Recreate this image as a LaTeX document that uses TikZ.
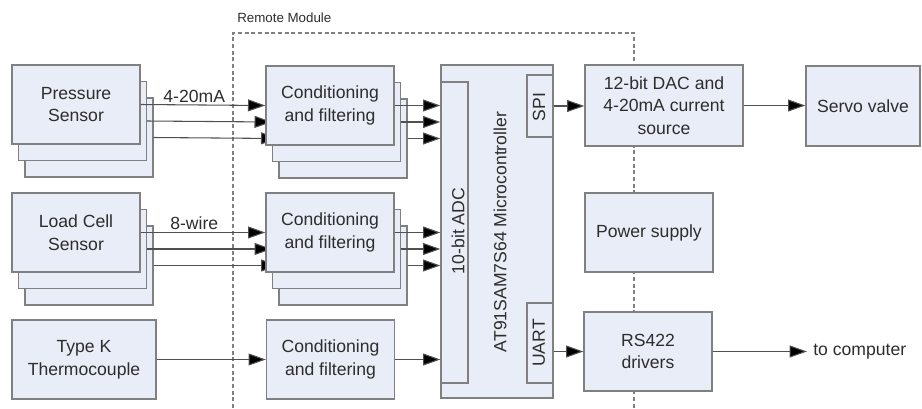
\documentclass[tikz,border=0pt]{standalone}
\usepackage{fontspec}
\setmainfont{Liberation Sans}
\usetikzlibrary{arrows.meta}

\begin{document}
\begin{tikzpicture}[x=0.75pt,y=-0.75pt,
  blk/.style={draw=kBorder,fill=kFill,line width=1pt,inner sep=0pt,
    minimum width=96pt,minimum height=59.25pt,align=center,text=kText,
    font=\fontsize{13.2}{17}\selectfont},
  lbl/.style={inner sep=0pt,text=kText,font=\fontsize{13.2}{17}\selectfont},
  sig/.style={draw=kLine,line width=0.8pt,-{Triangle[length=13pt,width=9pt,fill=black]}}]
  \definecolor{kFill}{RGB}{232,237,247}
  \definecolor{kBorder}{RGB}{128,128,128}
  \definecolor{kText}{RGB}{45,45,45}
  \definecolor{kLine}{RGB}{80,80,80}

  \useasboundingbox (0,0) rectangle (922,408);

  % remote module frame
  \draw[kBorder,line width=0.8pt,dash pattern=on 3pt off 2pt]
    (233,408) -- (233,33) -- (634,33) -- (634,408);
  \node[lbl,anchor=west,font=\fontsize{10}{12}\selectfont] (remote) at (237,18) {Remote Module};

  % microcontroller
  \node[blk,minimum width=84pt,minimum height=249.75pt] (mcu) at (497,231.5) {};
  \node[blk,minimum width=20.25pt,minimum height=225.75pt] (adc) at (454.5,232.5) {};
  \node[blk,minimum width=19.5pt,minimum height=46.5pt] (spi) at (540,106) {};
  \node[blk,minimum width=19.5pt,minimum height=60pt] (uart) at (540,343) {};
  \node[lbl,rotate=90] (mcutxt) at (500,232) {AT91SAM7S64 Microcontroller};
  \node[lbl,rotate=90] (adctxt) at (458,231) {10-bit ADC};
  \node[lbl,rotate=90] (spitxt) at (539,107) {SPI};
  \node[lbl,rotate=90] (uarttxt) at (539,343) {UART};

  % stacked sensors and conditioning
  \foreach \k/\dx/\dy in {3/13/33,2/6.5/16.5}
  {
    \node[blk] (ps\k) at (76+\dx,104.5+\dy) {};
    \node[blk] (cp\k) at (330+\dx,105.5+\dy) {};
    \draw[sig] (ps\k.east) -- (cp\k.west);
    \draw[sig] (cp\k.east) -- (cp\k.east -| adc.west);
    \node[blk] (lc\k) at (76+\dx,232.5+\dy) {};
    \node[blk] (cl\k) at (330+\dx,232.5+\dy) {};
    \draw[sig] (lc\k.east) -- (cl\k.west);
    \draw[sig] (cl\k.east) -- (cl\k.east -| adc.west);
  }

  \node[blk] (ps1) at (76,104.5) {Pressure\\Sensor};
  \node[blk] (cp1) at (330,105.5) {Conditioning\\and filtering};
  \node[blk] (lc1) at (76,232.5) {Load Cell\\Sensor};
  \node[blk] (cl1) at (330,232.5) {Conditioning\\and filtering};
  \node[blk,minimum width=108pt] (tc) at (84,359.5) {Type K\\Thermocouple};
  \node[blk] (ct) at (330.5,359.5) {Conditioning\\and filtering};

  \draw[sig] (ps1.east) -- node[lbl,above=1.5pt,pos=0.43] (ma) {4-20mA} (cp1.west);
  \draw[sig] (cp1.east) -- (cp1.east -| adc.west);
  \draw[sig] (lc1.east) -- node[lbl,above=1.5pt,pos=0.43] (wire) {8-wire} (cl1.west);
  \draw[sig] (cl1.east) -- (cl1.east -| adc.west);
  \draw[sig] (tc.east) -- (ct.west);
  \draw[sig] (ct.east) -- (ct.east -| mcu.west);

  % outputs
  \node[blk,minimum width=118.5pt,minimum height=60.75pt] (dac) at (664,105.5)
    {12-bit DAC and\\4-20mA current\\source};
  \node[blk,minimum width=85.5pt,minimum height=60pt] (servo) at (863,106) {Servo valve};
  \node[blk] (pwr) at (649,232.5) {Power supply};
  \node[blk] (rs) at (648,351.5) {RS422\\drivers};
  \node[lbl,anchor=west,inner sep=4.5pt] (comp) at (807,351.5) {to computer};

  \draw[sig] (spi.east) -- (spi.east -| dac.west);
  \draw[sig] (dac.east) -- (dac.east -| servo.west);
  \draw[sig] (uart.east |- rs.west) -- (rs.west);
  \draw[sig] (rs.east) -- (comp.west);
\end{tikzpicture}
\end{document}
